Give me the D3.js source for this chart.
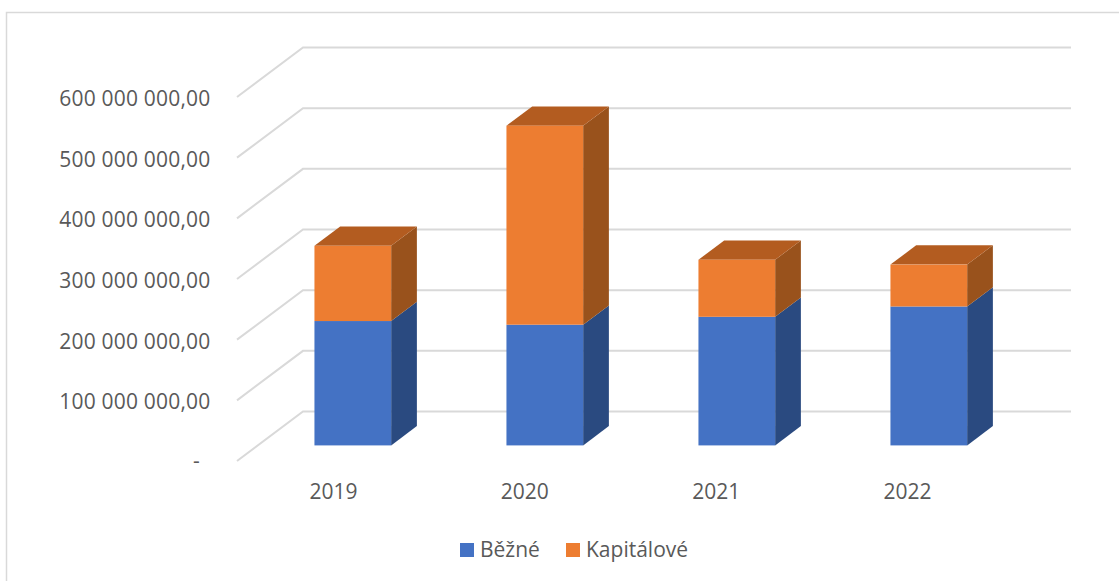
<!DOCTYPE html>
<html><head><meta charset="utf-8">
<script src="https://cdn.jsdelivr.net/npm/d3@7/dist/d3.min.js"></script>
<style>html,body{margin:0;padding:0;background:#fff}svg{display:block}text{font-family:"Open Sans",sans-serif;fill:#595959}</style>
</head><body><svg id="c" width="1119" height="581"></svg>
<script>
const categories = ["2019","2020","2021","2022"];
const bezne = [205e6,199e6,212e6,229e6];
const kapitalove = [124e6,328e6,94e6,69e6];
const seriesNames = ["Běžné","Kapitálové"];
const tickValues = [0,1e8,2e8,3e8,4e8,5e8,6e8];
const tickLabels = ["-","100 000 000,00","200 000 000,00","300 000 000,00","400 000 000,00","500 000 000,00","600 000 000,00"];

const svg = d3.select("#c");
const frontColors = ["#4472c4","#ed7d31"], sideColors = ["#2a4a80","#99521c"], topColors = ["#335a9e","#b35c20"];
// frame
svg.append("path").attr("d","M6.5,581V12.5H1119").attr("fill","none").attr("stroke","#d9d9d9").attr("stroke-width",1.5);

const y = d3.scaleLinear().domain([0,6e8]).range([461,97]);
const x = d3.scaleBand().domain(categories).range([237,1005]);
const xLabel = d3.scalePoint().domain(categories).range([333.5,907.5]);
const dx = 66, dy = -49.5;           // floor depth
const zIn = 0.315, zDepth = 0.39;    // bar position within floor depth
const barW = 76.7, barShift = 19.8;

// gridlines
const g = svg.append("g").attr("fill","none").attr("stroke","#d9d9d9").attr("stroke-width",2);
tickValues.forEach(v=>{
  g.append("path").attr("d",d3.line()([[x.range()[0],y(v)],[x.range()[0]+dx,y(v)+dy],[x.range()[1]+dx,y(v)+dy]]));
});
// y labels
svg.append("g").selectAll("text").data(tickValues).join("text")
  .attr("x",d=>d===0?200:210.5).attr("y",d=>y(d)+(d===0?-1:1)).attr("text-anchor","end").attr("dominant-baseline","central")
  .attr("font-size",21).attr("letter-spacing",0.2).text((d,i)=>tickLabels[i]);
// x labels
svg.append("g").selectAll("text").data(categories).join("text")
  .attr("x",d=>xLabel(d)).attr("y",491).attr("text-anchor","middle").attr("dominant-baseline","central")
  .attr("font-size",21).text(d=>d);

// bars
const stack = d3.stack().keys([0,1]).value((d,k)=>[bezne,kapitalove][k][d]);
const layers = stack(d3.range(categories.length));
const by = dy*zIn, bdx = dx*zDepth, bdy = dy*zDepth;
const pts = a=>a.map(p=>p.join(",")).join(" ");
layers.forEach((layer,k)=>{
  const b = svg.append("g");
  layer.forEach((d,i)=>{
    const L = x(categories[i])+x.bandwidth()/2 - barW/2 + barShift, R = L+barW;
    const y0 = y(d[0])+by, y1 = y(d[1])+by;
    b.append("polygon").attr("points",pts([[R,y0],[R+bdx,y0+bdy],[R+bdx,y1+bdy],[R,y1]])).attr("fill",sideColors[k]);
    if(k===1) b.append("polygon").attr("points",pts([[L,y1],[L+bdx,y1+bdy],[R+bdx,y1+bdy],[R,y1]])).attr("fill",topColors[k]);
    b.append("rect").attr("x",L).attr("y",y1).attr("width",barW).attr("height",y0-y1).attr("fill",frontColors[k]);
  });
});
// legend
const lx=[460,566], tx=[480,586];
seriesNames.forEach((n,i)=>{
  svg.append("rect").attr("x",lx[i]).attr("y",543).attr("width",14).attr("height",14).attr("fill",frontColors[i]);
  svg.append("text").attr("x",tx[i]).attr("y",549).attr("dominant-baseline","central").attr("font-size",21).text(n);
});
</script></body></html>
